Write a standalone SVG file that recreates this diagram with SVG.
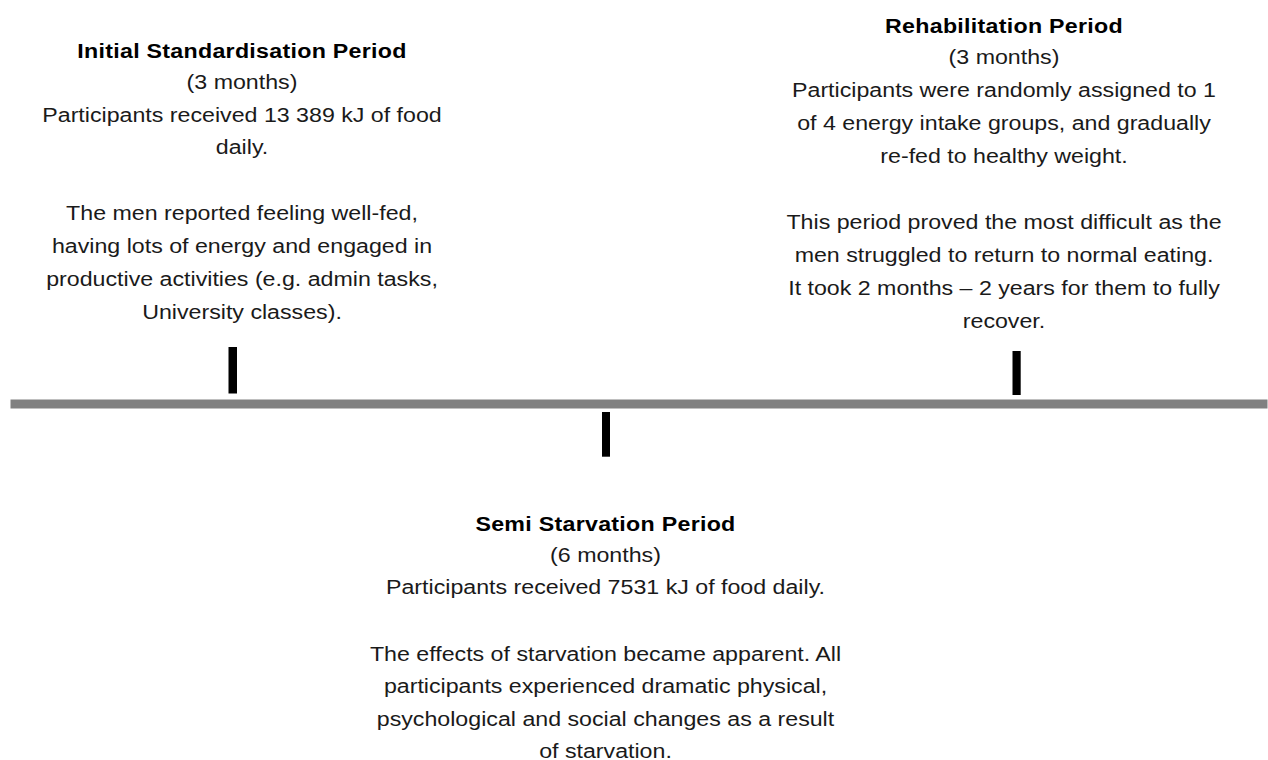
<svg xmlns="http://www.w3.org/2000/svg" width="1268" height="760" viewBox="0 0 1268 760">
  <style>
    text { font-family: "Liberation Sans", Arial, Helvetica, sans-serif; font-size: 20px; fill: #1a1a1a; text-anchor: middle; }
    .title { font-weight: bold; fill: #000; letter-spacing: 0.25px; }
    .tick { fill: #000; }
  </style>
  <rect width="1268" height="760" fill="#fff"/>
  <g id="connectors">
    <rect id="timeline" x="10.5" y="399.5" width="1257" height="9" fill="#808080"/>
  </g>
  <g id="node-initial">
    <rect class="tick" x="228.5" y="347" width="8.5" height="46.5"/>
    <g transform="translate(242,0) scale(1.16,1)">
      <text class="title" x="0" y="58">Initial Standardisation Period</text>
      <text x="0" y="89.5">(3 months)</text>
      <text x="0" y="121.7">Participants received 13 389 kJ of food</text>
      <text x="0" y="154">daily.</text>
      <text x="0" y="220.5">The men reported feeling well-fed,</text>
      <text x="0" y="253.3">having lots of energy and engaged in</text>
      <text x="0" y="286.5">productive activities (e.g. admin tasks,</text>
      <text x="0" y="319.3">University classes).</text>
    </g>
  </g>
  <g id="node-semi">
    <rect class="tick" x="602" y="412" width="8" height="44.7"/>
    <g transform="translate(605.5,0) scale(1.16,1)">
      <text class="title" x="0" y="531">Semi Starvation Period</text>
      <text x="0" y="562">(6 months)</text>
      <text x="0" y="594">Participants received 7531 kJ of food daily.</text>
      <text x="0" y="661">The effects of starvation became apparent. All</text>
      <text x="0" y="693.5">participants experienced dramatic physical,</text>
      <text x="0" y="726.5">psychological and social changes as a result</text>
      <text x="0" y="758.5">of starvation.</text>
    </g>
  </g>
  <g id="node-rehab">
    <rect class="tick" x="1012.5" y="351" width="8.2" height="44"/>
    <g transform="translate(1004,0) scale(1.16,1)">
      <text class="title" x="0" y="32.7">Rehabilitation Period</text>
      <text x="0" y="64.5">(3 months)</text>
      <text x="0" y="97.3">Participants were randomly assigned to 1</text>
      <text x="0" y="130">of 4 energy intake groups, and gradually</text>
      <text x="0" y="162.7">re-fed to healthy weight.</text>
      <text x="0" y="229.3">This period proved the most difficult as the</text>
      <text x="0" y="262.3">men struggled to return to normal eating.</text>
      <text x="0" y="295.3">It took 2 months – 2 years for them to fully</text>
      <text x="0" y="328.5">recover.</text>
    </g>
  </g>
</svg>
